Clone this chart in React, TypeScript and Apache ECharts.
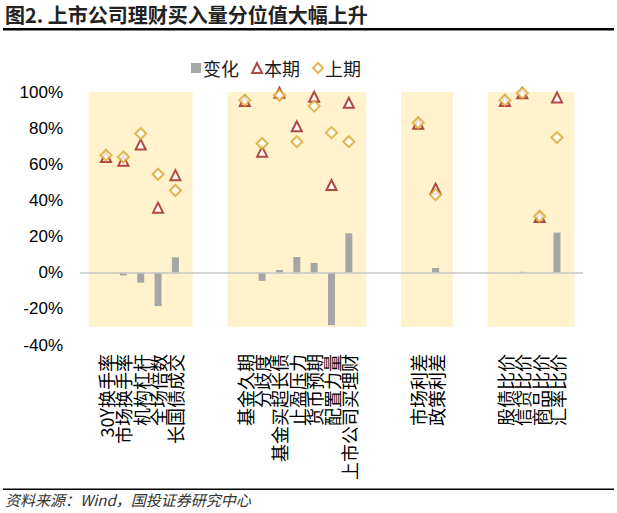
import React, { useEffect, useRef } from "react";
import * as echarts from "echarts";

const categories: string[] = [
  "",
  "30Y换手率", "市场换手率", "机构杠杆", "全场倍数", "长国债成交",
  "", "", "",
  "基金久期", "分歧度", "基金买超长债", "止盈压力", "货币预期", "配置力量", "上市公司买理财",
  "", "", "",
  "市场利差", "政策利差",
  "", "", "",
  "股债比价", "信贷比价", "商品比价", "汇率比价",
  "",
];

const changeValues: (number | null)[] = [
  null,
  0, -1.5, -5.5, -18.5, 8.5,
  null, null, null,
  0, -4.5, 1.5, 8.7, 5.4, -29, 21.8,
  null, null, null,
  0, 2.6,
  null, null, null,
  0, 0.5, 0, 22.2,
  null,
];

const currentValues: (number | null)[] = [
  null,
  64, 62, 71, 36, 54,
  null, null, null,
  95, 67, 99.6, 81, 97.4, 48.5, 94,
  null, null, null,
  82.5, 46.5,
  null, null, null,
  95, 99.3, 30.8, 97,
  null,
];

const previousValues: (number | null)[] = [
  null,
  65, 64, 77, 54.5, 45.5,
  null, null, null,
  95.5, 71.5, 98.2, 72.5, 92.2, 77.5, 72.5,
  null, null, null,
  83, 43.2,
  null, null, null,
  95.5, 99.5, 31.2, 74.8,
  null,
];

// shaded bands (category index ranges) and their vertical extent
const bandRanges: [number, number][] = [
  [0, 6],
  [8, 16],
  [18, 21],
  [23, 28],
];
const bandBottom = -30;
const bandTop = 100;

const legendNames = ["变化", "本期", "上期"];
const titleText = "图2. 上市公司理财买入量分位值大幅上升";
const sourceText = "资料来源：Wind，国投证券研究中心";

const CJK = '"Noto Sans CJK SC", "Noto Sans", sans-serif';

export default function App() {
  const ref = useRef<HTMLDivElement>(null);

  useEffect(() => {
    if (!ref.current) return;
    const chart = echarts.init(ref.current, undefined, { renderer: "svg" });
    const option: any = {
      animation: false,
      backgroundColor: "#ffffff",
      textStyle: { fontFamily: CJK },
      grid: { left: 80, right: 34, top: 92, bottom: 168, containLabel: false },
      legend: {
        data: [
          { name: legendNames[0], icon: "rect" },
          { name: legendNames[1] },
          { name: legendNames[2] },
        ],
        left: 186,
        top: 54,
        itemWidth: 10,
        itemHeight: 10,
        itemGap: 12,
        textStyle: { fontSize: 18, color: "#1a1a1a", fontFamily: CJK, padding: [0, 0, 0, -3] },
      },
      xAxis: {
        type: "category",
        data: categories,
        boundaryGap: true,
        axisLine: { show: false },
        axisTick: { show: false },
        splitLine: { show: false },
        axisLabel: {
          interval: 0,
          rotate: 90,
          margin: 9,
          fontSize: 18,
          color: "#000000",
          fontFamily: CJK,
          lineHeight: 17,
        },
      },
      yAxis: {
        type: "value",
        min: -40,
        max: 100,
        interval: 20,
        axisLine: { show: false },
        axisTick: { show: false },
        splitLine: { show: false },
        axisLabel: {
          formatter: "{value}%",
          fontSize: 17,
          margin: 17,
          color: "#000000",
          fontFamily: '"Liberation Sans", Arial, sans-serif',
        },
      },
      series: [
        {
          name: "bands",
          type: "line",
          data: [],
          z: 1,
          silent: true,
          markArea: {
            silent: true,
            itemStyle: { color: "#fff2cc" },
            label: { show: false },
            data: bandRanges.map(([a, b]) => [
              { xAxis: a, yAxis: bandBottom },
              { xAxis: b, yAxis: bandTop },
            ]),
          },
          markLine: {
            silent: true,
            symbol: "none",
            label: { show: false },
            lineStyle: { color: "#c6c6c6", width: 1.5, type: "solid" },
            data: [{ yAxis: 0 }],
          },
        },
        {
          name: legendNames[0],
          type: "bar",
          data: changeValues,
          barWidth: 7,
          z: 3,
          itemStyle: { color: "#a6a6a6" },
        },
        {
          name: legendNames[1],
          type: "scatter",
          data: currentValues,
          symbol: "triangle",
          symbolSize: 10,
          z: 4,
          itemStyle: { color: "#ffffff", borderColor: "#9c1c1c", borderWidth: 2 },
        },
        {
          name: legendNames[2],
          type: "scatter",
          data: previousValues,
          symbol: "diamond",
          symbolSize: 11,
          z: 5,
          itemStyle: { color: "#ffffff", borderColor: "#d9a62e", borderWidth: 2 },
        },
      ],
      graphic: [
        {
          type: "text",
          left: 5,
          top: 4,
          style: {
            text: titleText,
            fontSize: 20,
            fontWeight: "bold",
            fill: "#222222",
            fontFamily: CJK,
          },
        },
        {
          type: "rect",
          shape: { x: 3, y: 28, width: 611, height: 2.5 },
          style: { fill: "#000000" },
        },
        {
          type: "rect",
          shape: { x: 3, y: 488.5, width: 611, height: 1.5 },
          style: { fill: "#000000" },
        },
        {
          type: "text",
          left: 5,
          top: 492,
          style: {
            text: sourceText,
            fontSize: 15,
            fontStyle: "italic",
            fill: "#333333",
            fontFamily: CJK,
          },
        },
      ],
    };
    chart.setOption(option);
    return () => chart.dispose();
  }, []);

  return (
    <div
      ref={ref}
      style={{ position: "fixed", left: 0, top: 0, width: 617, height: 513 }}
    />
  );
}
